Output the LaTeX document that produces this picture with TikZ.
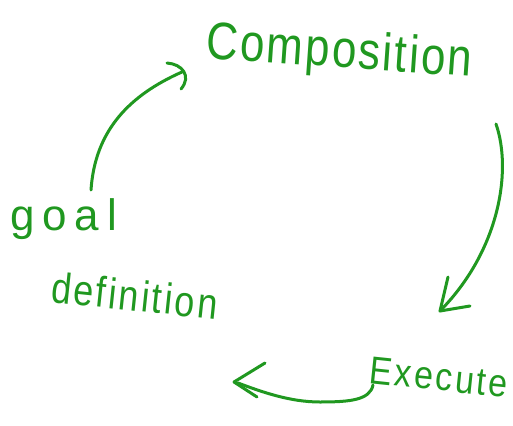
\documentclass[tikz,border=0pt]{standalone}
\usepackage{fontspec}
\setmainfont{Liberation Sans}
\usetikzlibrary{calc}
\definecolor{pen}{RGB}{32,152,32}
\tikzset{
  hand/.style={text=pen, inner sep=0pt, font=\fontsize{44}{48}\selectfont},
  stroke/.style={draw=pen, line width=3pt, line cap=round, line join=round}
}
\begin{document}
\begin{tikzpicture}[x=1pt,y=-1pt]
\useasboundingbox (0,0) rectangle (513,425);
% labels
\node[hand, anchor=base west, rotate=-4] (comp) at (205,58) {\addfontfeatures{LetterSpace=5}\scalebox{1.0}[1.2]{Composition}};
\node[hand, anchor=base west] (goal) at (10,230) {\addfontfeatures{LetterSpace=18}goal};
\node[hand, anchor=base west, rotate=-6, font=\fontsize{36}{40}\selectfont] (defn) at (50,302) {\addfontfeatures{LetterSpace=7}\scalebox{1.0}[1.2]{definition}};
\node[hand, anchor=base west, rotate=-6, font=\fontsize{34}{38}\selectfont] (exec) at (368,383) {\addfontfeatures{LetterSpace=8}\scalebox{1.0}[1.15]{Execute}};
% connector end points
\coordinate (a1s) at (91,190);
\coordinate (a1e) at (182,72);
\coordinate (a2s) at (496,124);
\coordinate (a2e) at (440,311);
\coordinate (a3s) at (373,385);
\coordinate (a3m) at (320,402);
\coordinate (a3e) at (238,383);
% arrow goal -> composition
\draw[stroke] (a1s) .. controls (95,130) and (130,95) .. (a1e);
\draw[stroke] ($(a1e)+(-15,-9)$) .. controls (182,64) and (192,76) .. ($(a1e)+(-1,17)$);
% arrow composition -> execute
\draw[stroke] (a2s) .. controls (512,170) and (500,250) .. (a2e);
\draw[stroke] ($(a2e)+(8,-34)$) -- (a2e) -- ($(a2e)+(30,-5)$);
% arrow execute -> goal definition
\draw[stroke] (a3s) .. controls (370,400) and (350,402) .. (a3m) .. controls (290,402) and (262,392) .. (a3e);
\draw[stroke] ($(a3e)+(27,-20)$) -- ($(a3e)+(-4,-1)$) -- ($(a3e)+(19,14)$);
\end{tikzpicture}
\end{document}
